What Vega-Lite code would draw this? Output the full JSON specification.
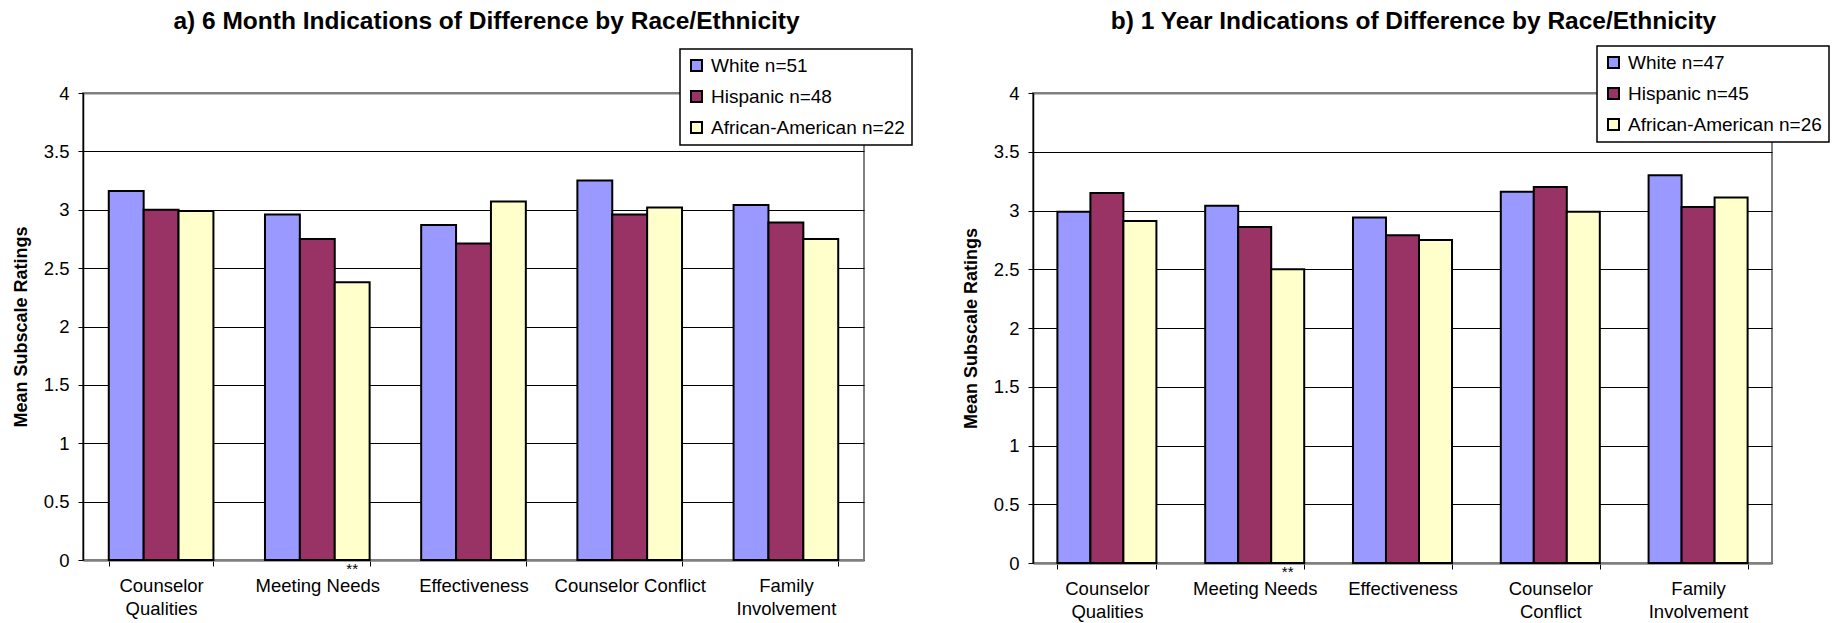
{
  "$schema": "https://vega.github.io/schema/vega-lite/v6.json",
  "background": "white",
  "padding": {"left": 11, "top": 7, "right": 0, "bottom": 0},
  "spacing": 47,
  "config": {
    "font": "Liberation Sans",
    "view": {"stroke": "#808080", "strokeWidth": 2},
    "title": {"color": "black", "fontSize": 24.5, "fontWeight": "bold", "frame": "group"},
    "axisY": {
      "values": [0, 0.5, 1, 1.5, 2, 2.5, 3, 3.5, 4],
      "format": "~g",
      "grid": true,
      "gridColor": {"condition": {"test": "datum.value === 4", "value": "#808080"}, "value": "black"},
      "gridWidth": {"condition": {"test": "datum.value === 4", "value": 2}, "value": 1},
      "domainColor": "black",
      "domainWidth": 1.5,
      "tickColor": "black",
      "tickSize": 5,
      "labelFontSize": 18.5,
      "labelColor": "black",
      "labelPadding": 9,
      "titleFontSize": 18,
      "titleFontWeight": "bold",
      "titleColor": "black",
      "titlePadding": 13
    },
    "axisX": {
      "title": null,
      "grid": false,
      "labelAngle": 0,
      "tickBand": "extent",
      "tickColor": "black",
      "tickSize": 6,
      "domainColor": "#808080",
      "domainWidth": 2.5,
      "labelFontSize": 18.5,
      "labelColor": "black",
      "labelPadding": 10,
      "labelLineHeight": 23,
      "labelLimit": 0
    },
    "legend": {
      "orient": "none",
      "title": null,
      "strokeColor": "black",
      "strokeWidth": 1.5,
      "fillColor": "white",
      "padding": 7,
      "symbolType": "square",
      "symbolSize": 121,
      "symbolStrokeColor": "black",
      "symbolStrokeWidth": 2,
      "labelFontSize": 19,
      "labelColor": "black",
      "labelLimit": 0,
      "rowPadding": 11,
      "labelOffset": 5,
      "cornerRadius": 0
    }
  },
  "hconcat": [
    {
      "width": 781,
      "height": 467,
      "title": {"text": "a) 6 Month Indications of Difference by Race/Ethnicity", "dx": 13, "offset": 14},
      "data": {"values": [
        {"category": "Counselor Qualities", "group": "White n=51", "value": 3.16, "note": ""},
        {"category": "Counselor Qualities", "group": "Hispanic n=48", "value": 3.0, "note": ""},
        {"category": "Counselor Qualities", "group": "African-American n=22", "value": 2.99, "note": ""},
        {"category": "Meeting Needs", "group": "White n=51", "value": 2.96, "note": ""},
        {"category": "Meeting Needs", "group": "Hispanic n=48", "value": 2.75, "note": ""},
        {"category": "Meeting Needs", "group": "African-American n=22", "value": 2.38, "note": "**"},
        {"category": "Effectiveness", "group": "White n=51", "value": 2.87, "note": ""},
        {"category": "Effectiveness", "group": "Hispanic n=48", "value": 2.71, "note": ""},
        {"category": "Effectiveness", "group": "African-American n=22", "value": 3.07, "note": ""},
        {"category": "Counselor Conflict", "group": "White n=51", "value": 3.25, "note": ""},
        {"category": "Counselor Conflict", "group": "Hispanic n=48", "value": 2.96, "note": ""},
        {"category": "Counselor Conflict", "group": "African-American n=22", "value": 3.02, "note": ""},
        {"category": "Family Involvement", "group": "White n=51", "value": 3.04, "note": ""},
        {"category": "Family Involvement", "group": "Hispanic n=48", "value": 2.89, "note": ""},
        {"category": "Family Involvement", "group": "African-American n=22", "value": 2.75, "note": ""}
      ]},
      "encoding": {
        "x": {"field": "category", "type": "nominal", "sort": null,
              "scale": {"paddingInner": 0.33, "paddingOuter": 0.165},
              "axis": {"labelExpr": "datum.value == 'Counselor Qualities' ? ['Counselor', 'Qualities'] : datum.value == 'Family Involvement' ? ['Family', 'Involvement'] : datum.value"}},
        "xOffset": {"field": "group", "type": "nominal", "sort": null, "scale": {"paddingInner": 0, "paddingOuter": 0}}
      },
      "layer": [
        {
          "mark": {"type": "bar", "stroke": "black", "strokeWidth": 2},
          "encoding": {
            "y": {"field": "value", "type": "quantitative", "scale": {"domain": [0, 4]}, "title": "Mean Subscale Ratings"},
            "color": {"field": "group", "type": "nominal",
                      "scale": {"domain": ["White n=51", "Hispanic n=48", "African-American n=22"], "range": ["#9999FF", "#993366", "#FFFFCC"]},
                      "legend": {"legendX": 597, "legendY": -44}}
          }
        },
        {
          "transform": [{"filter": "datum.note != ''"}],
          "mark": {"type": "text", "fontSize": 15, "baseline": "middle", "dy": 9, "color": "black"},
          "encoding": {
            "y": {"datum": 0, "type": "quantitative"},
            "text": {"field": "note"}
          }
        }
      ]
    },
    {
      "width": 739,
      "height": 470,
      "title": {"text": "b) 1 Year Indications of Difference by Race/Ethnicity", "dx": 11, "offset": 11},
      "data": {"values": [
        {"category": "Counselor Qualities", "group": "White n=47", "value": 2.99, "note": ""},
        {"category": "Counselor Qualities", "group": "Hispanic n=45", "value": 3.15, "note": ""},
        {"category": "Counselor Qualities", "group": "African-American n=26", "value": 2.91, "note": ""},
        {"category": "Meeting Needs", "group": "White n=47", "value": 3.04, "note": ""},
        {"category": "Meeting Needs", "group": "Hispanic n=45", "value": 2.86, "note": ""},
        {"category": "Meeting Needs", "group": "African-American n=26", "value": 2.5, "note": "**"},
        {"category": "Effectiveness", "group": "White n=47", "value": 2.94, "note": ""},
        {"category": "Effectiveness", "group": "Hispanic n=45", "value": 2.79, "note": ""},
        {"category": "Effectiveness", "group": "African-American n=26", "value": 2.75, "note": ""},
        {"category": "Counselor Conflict", "group": "White n=47", "value": 3.16, "note": ""},
        {"category": "Counselor Conflict", "group": "Hispanic n=45", "value": 3.2, "note": ""},
        {"category": "Counselor Conflict", "group": "African-American n=26", "value": 2.99, "note": ""},
        {"category": "Family Involvement", "group": "White n=47", "value": 3.3, "note": ""},
        {"category": "Family Involvement", "group": "Hispanic n=45", "value": 3.03, "note": ""},
        {"category": "Family Involvement", "group": "African-American n=26", "value": 3.11, "note": ""}
      ]},
      "encoding": {
        "x": {"field": "category", "type": "nominal", "sort": null,
              "scale": {"paddingInner": 0.33, "paddingOuter": 0.165},
              "axis": {"labelExpr": "datum.value == 'Counselor Qualities' ? ['Counselor', 'Qualities'] : datum.value == 'Family Involvement' ? ['Family', 'Involvement'] : datum.value == 'Counselor Conflict' ? ['Counselor', 'Conflict'] : datum.value"}},
        "xOffset": {"field": "group", "type": "nominal", "sort": null, "scale": {"paddingInner": 0, "paddingOuter": 0}}
      },
      "layer": [
        {
          "mark": {"type": "bar", "stroke": "black", "strokeWidth": 2},
          "encoding": {
            "y": {"field": "value", "type": "quantitative", "scale": {"domain": [0, 4]}, "title": "Mean Subscale Ratings"},
            "color": {"field": "group", "type": "nominal",
                      "scale": {"domain": ["White n=47", "Hispanic n=45", "African-American n=26"], "range": ["#9999FF", "#993366", "#FFFFCC"]},
                      "legend": {"legendX": 564, "legendY": -47}}
          }
        },
        {
          "transform": [{"filter": "datum.note != ''"}],
          "mark": {"type": "text", "fontSize": 15, "baseline": "middle", "dy": 9, "color": "black"},
          "encoding": {
            "y": {"datum": 0, "type": "quantitative"},
            "text": {"field": "note"}
          }
        }
      ]
    }
  ],
  "resolve": {"scale": {"color": "independent", "x": "independent", "y": "independent", "xOffset": "independent"}}
}
